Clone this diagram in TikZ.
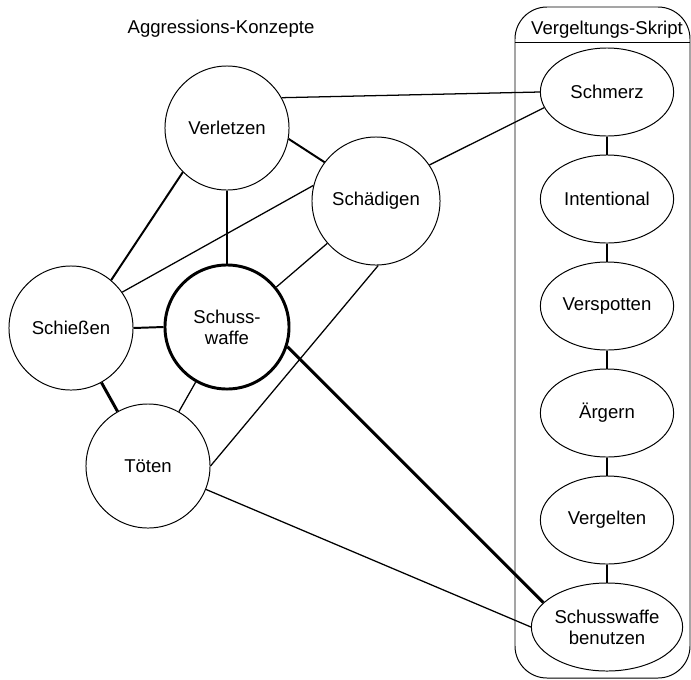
\documentclass[tikz,border=0pt]{standalone}
\usepackage{fontspec}
\setmainfont{Liberation Sans}
\usetikzlibrary{shapes.geometric}

\tikzset{
	konzept/.style={draw, circle, line width=0.7pt, minimum size=3.1cm, inner sep=0pt, align=center},
	skriptel/.style={draw, ellipse, line width=0.7pt, minimum width=3.33cm, minimum height=2.2cm, inner sep=0pt, align=center},
	duenn/.style={line width=0.9pt},
	mittel/.style={line width=1.4pt},
	dick/.style={line width=2.1pt}
}

\begin{document}
\begin{tikzpicture}[x=0.025cm, y=-0.025cm, font=\fontsize{13.2}{15}\selectfont]
			%%%%% START %%%%%
			
			\useasboundingbox (0,0) rectangle (691,679);
			
			\draw[line width=0.7pt, rounded corners=0.8cm] (515,7) rectangle (690,678);
			\draw[line width=0.7pt] (515,42) -- (690,42);
			
			\node (konzepte) at (221,29) {Aggressions-Konzepte};
			\node (skript) at (607,30) {Vergeltungs-Skript};
			
			\node[konzept] (verletzen) at (227,128) {Verletzen};
			\node[konzept, minimum size=3.2cm] (schaedigen) at (376,201) {Schädigen};
			\node[konzept] (schiessen) at (71,328) {Schießen};
			\node[konzept, line width=2.1pt] (waffe) at (227,327) {Schuss-\\waffe};
			\node[konzept] (toeten) at (148,466) {Töten};
			
			\node[skriptel] (schmerz) at (607,92) {Schmerz};
			\node[skriptel] (intentional) at (607,199) {Intentional};
			\node[skriptel] (verspotten) at (607,306) {Verspotten};
			\node[skriptel] (aergern) at (607,413) {Ärgern};
			\node[skriptel] (vergelten) at (607,520) {Vergelten};
			\node[skriptel, minimum width=3.78cm] (benutzen) at (607,627) {Schusswaffe\\benutzen};
			
			\draw[duenn] (verletzen.29) -- (schmerz.west);
			\draw[duenn] (schaedigen.34) -- (schmerz.194);
			\draw[mittel] (verletzen.-10) -- (schaedigen.143);
			\draw[mittel] (verletzen.-135) -- (schiessen.50);
			\draw[duenn] (verletzen.south) -- (waffe.north);
			\draw[duenn] (schaedigen.166) -- (schiessen.35);
			\draw[duenn] (schaedigen.-139) -- (waffe.39);
			\draw[duenn] (schaedigen.-88) -- (toeten.east);
			\draw[mittel] (schiessen.east) -- (waffe.west);
			\draw[dick] (schiessen) -- (toeten);
			\draw[duenn] (waffe) -- (toeten);
			\draw[dick] (waffe.-18) -- (benutzen.159);
			\draw[duenn] (toeten.-22) -- (benutzen.west);
			
			\draw[dick] (schmerz) -- (intentional);
			\draw[dick] (intentional) -- (verspotten);
			\draw[dick] (verspotten) -- (aergern);
			\draw[dick] (aergern) -- (vergelten);
			\draw[dick] (vergelten) -- (benutzen);
			
			%%%%% END %%%%%
\end{tikzpicture}
\end{document}
